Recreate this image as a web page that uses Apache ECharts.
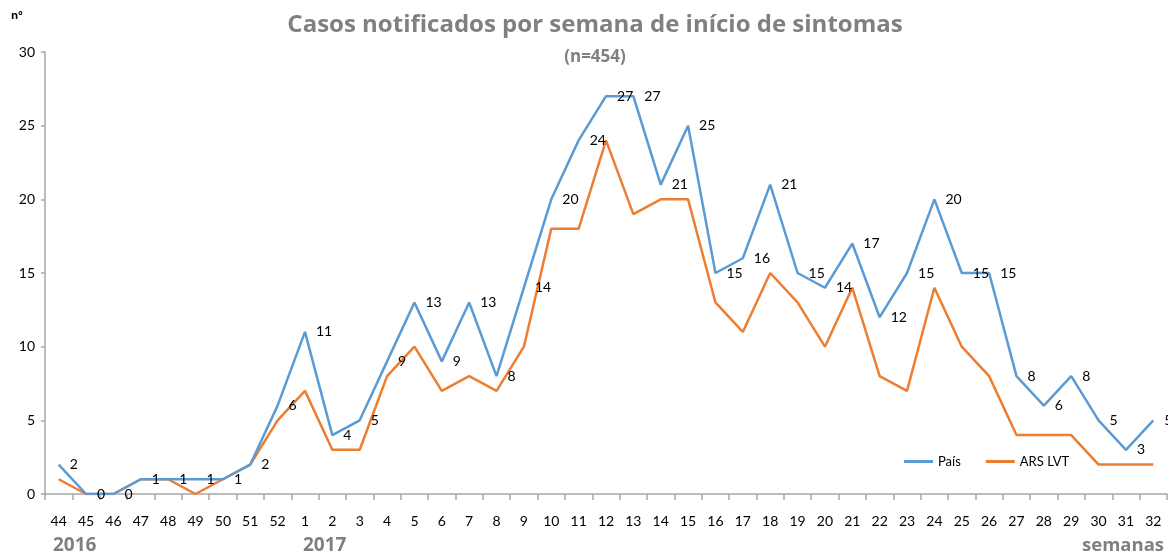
<!DOCTYPE html>
<html>
<head>
<meta charset="utf-8">
<script src="https://cdn.jsdelivr.net/npm/echarts@6/dist/echarts.min.js"></script>
<style>html,body{margin:0;padding:0;background:#fff}#c{width:1168px;height:554px}</style>
</head>
<body>
<div id="c"></div>
<script>
var weeks = ['44','45','46','47','48','49','50','51','52','1','2','3','4','5','6','7','8','9','10','11','12','13','14','15','16','17','18','19','20','21','22','23','24','25','26','27','28','29','30','31','32'];
var pais = [2,0,0,1,1,1,1,2,6,11,4,5,9,13,9,13,8,14,20,24,27,27,21,25,15,16,21,15,14,17,12,15,20,15,15,8,6,8,5,3,5];
var arsLvt = [1,0,0,1,1,0,1,2,5,7,3,3,8,10,7,8,7,10,18,18,24,19,20,20,13,11,15,13,10,14,8,7,14,10,8,4,4,4,2,2,2];
var yTicks = {min:0, max:30, interval:5};
var titleText = 'Casos notificados por semana de início de sintomas';
var subtitleText = '(n=454)';
var yearLabels = ['2016','2017'];

var chart = echarts.init(document.getElementById('c'), null, {renderer:'canvas'});
var gridLeft = 45, gridRight = 1, gridTop = 52, gridBottom = 60;

chart.setOption({
  animation:false,
  backgroundColor:'#fff',
  title:[
    {text:titleText, left:590, top:8, textAlign:'center',
     textStyle:{fontFamily:'Open Sans', fontWeight:'bold', fontSize:24, color:'#808080'}},
    {text:subtitleText, left:590, top:44, textAlign:'center',
     textStyle:{fontFamily:'Open Sans', fontWeight:'bold', fontSize:17, color:'#808080'}}
  ],
  legend:{
    left:899, top:450, itemWidth:29, itemHeight:3, itemGap:25,
    icon:'rect',
    textStyle:{fontFamily:'Lato', fontSize:13, color:'#000', padding:[2,0,0,0]},
    data:['País','ARS LVT']
  },
  grid:{left:gridLeft, right:gridRight, top:gridTop, bottom:gridBottom},
  xAxis:{
    type:'category', data:weeks, boundaryGap:true,
    axisLine:{lineStyle:{color:'#a6a6a6', width:1.5}},
    axisTick:{show:true, length:6, lineStyle:{color:'#a6a6a6', width:1.5}},
    axisLabel:{interval:0, margin:20, fontFamily:'Lato', fontSize:14, color:'#000'}
  },
  yAxis:{
    type:'value', min:yTicks.min, max:yTicks.max, interval:yTicks.interval,
    splitLine:{show:false},
    axisLine:{show:true, lineStyle:{color:'#a6a6a6', width:1.5}},
    axisTick:{show:true, length:4, lineStyle:{color:'#a6a6a6', width:1.5}},
    axisLabel:{margin:10, fontFamily:'Lato', fontSize:14, color:'#000'}
  },
  series:[
    {name:'País', type:'line', data:pais, symbol:'circle', symbolSize:0.01, showSymbol:true,
     lineStyle:{color:'#5b9bd5', width:2.5}, itemStyle:{color:'#5b9bd5'},
     label:{show:true, position:'right', distance:11, offset:[0,4], fontFamily:'Lato', fontSize:14, color:'#000'},
     labelLayout:{hideOverlap:false},
     z:3},
    {name:'ARS LVT', type:'line', data:arsLvt, symbol:'none', showSymbol:false,
     lineStyle:{color:'#ed7d31', width:2.5}, itemStyle:{color:'#ed7d31'},
     z:2}
  ],
  graphic:[
    {type:'text', left:11, top:10, style:{text:'nº', font:'bold 11px "Open Sans"', fill:'#000'}},
    {type:'text', x:53, y:536, style:{text:yearLabels[0], font:'bold 19px "Open Sans"', fill:'#808080', textAlign:'left'}},
    {type:'text', x:303, y:536, style:{text:yearLabels[1], font:'bold 19px "Open Sans"', fill:'#808080', textAlign:'left'}},
    {type:'text', x:1164, y:536, style:{text:'semanas', font:'bold 18.5px "Open Sans"', fill:'#808080', textAlign:'right'}}
  ]
});
</script>
</body>
</html>
